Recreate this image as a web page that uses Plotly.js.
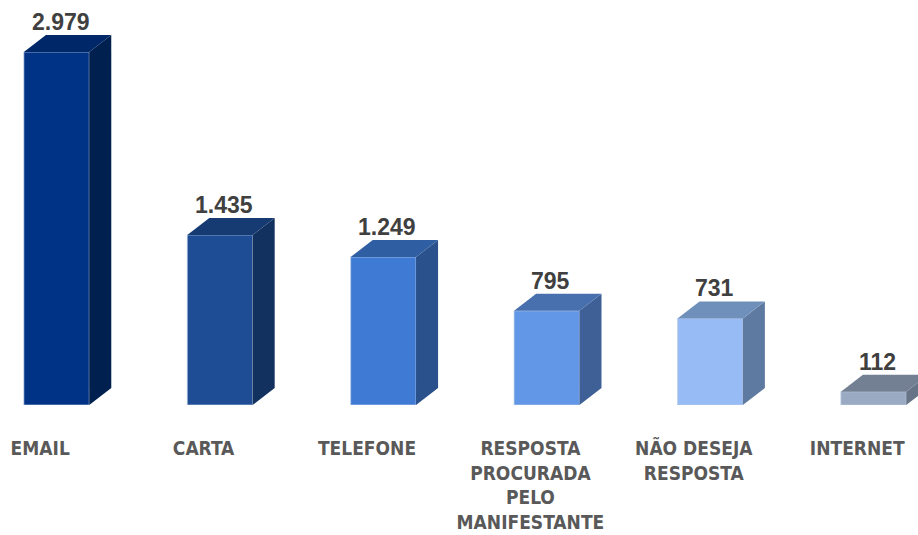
<!DOCTYPE html>
<html><head><meta charset="utf-8">
<script src="https://cdn.plot.ly/plotly-3.0.1.min.js"></script>
<style>html,body{margin:0;padding:0;background:#fff}#c{width:918px;height:535px}</style>
</head><body><div id="c"></div>
<script>
const categories = ["EMAIL","CARTA","TELEFONE","RESPOSTA<br>PROCURADA<br>PELO<br>MANIFESTANTE","NÃO DESEJA<br>RESPOSTA","INTERNET"];
const values = [2979, 1435, 1249, 795, 731, 112];
const valueLabels = ["2.979","1.435","1.249","795","731","112"];
const frontColors = ["#003286","#1E4C95","#3F7BD5","#6296E6","#97BCF5","#9AAAC2"];
const sideColors  = ["#00204F","#13315F","#2A518B","#3F6096","#5F7AA0","#677488"];
const topColors   = ["#002868","#163A72","#2F5EA3","#4870AE","#7090BC","#737F93"];

const idx = values.map((v,i)=>i);
const w = 0.4, dx = 0.135, dy = 143;

const shapes = [];
values.forEach((v,i)=>{
  const l = i - w/2, r = i + w/2;
  shapes.push({type:'path', xref:'x', yref:'y', layer:'above',
    path:`M${r},0 L${r+dx},${dy} L${r+dx},${v+dy} L${r},${v} Z`,
    fillcolor: sideColors[i], line:{width:0}});
  shapes.push({type:'path', xref:'x', yref:'y', layer:'above',
    path:`M${l},${v} L${l+dx},${v+dy} L${r+dx},${v+dy} L${r},${v} Z`,
    fillcolor: topColors[i], line:{width:0}});
});

const annotations = values.map((v,i)=>({
  x: i + 0.025, y: v + dy, xref:'x', yref:'y', text: valueLabels[i],
  showarrow:false, yanchor:'bottom', yshift:-2,
  font:{family:'Liberation Sans, Arial, sans-serif', size:23, color:'#404040', weight:'bold'}
}));

const trace = {type:'bar', x: idx, y: values, width: w,
  marker:{color: frontColors, line:{color:'rgba(190,205,230,0.7)', width:1}},
  hoverinfo:'none'};

const layout = {
  width:918, height:535, margin:{l:0,r:0,t:0,b:130},
  paper_bgcolor:'#fff', plot_bgcolor:'#fff', showlegend:false,
  xaxis:{range:[-0.346,5.272], tickvals: idx.map(i=>i-0.1), ticktext: categories,
    showgrid:false, zeroline:false, showline:false, ticks:'', ticklabelstandoff:30,
    tickfont:{family:'Liberation Sans Narrow, DejaVu Sans Condensed, sans-serif', size:19, color:'#595959', weight:'bold'}},
  yaxis:{range:[0,3418], visible:false, showgrid:false, zeroline:false},
  shapes: shapes, annotations: annotations
};
Plotly.newPlot('c',[trace],layout,{displayModeBar:false, staticPlot:true});
</script></body></html>
